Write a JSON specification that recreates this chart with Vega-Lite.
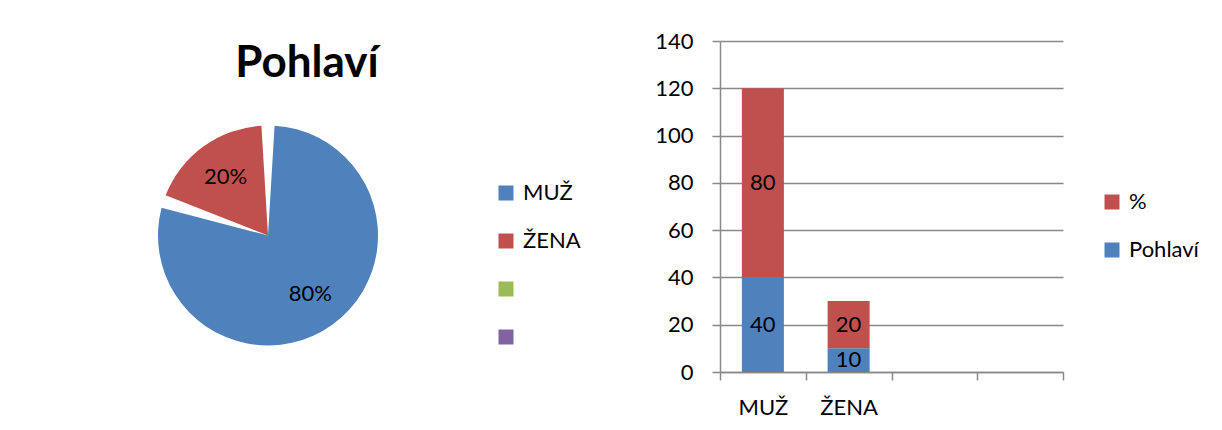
{
  "$schema": "https://vega.github.io/schema/vega-lite/v6.json",
  "background": "white",
  "padding": {"left": 148, "top": 30, "right": 0, "bottom": 0},
  "autosize": {"type": "pad"},
  "config": {
    "font": "Lato",
    "view": {"stroke": null},
    "axis": {"labelFont": "Lato", "labelColor": "black"},
    "legend": {"labelFont": "Lato"}
  },
  "spacing": 73,
  "hconcat": [
    {
      "width": 240,
      "height": 389,
      "title": {"text": "Pohlaví", "fontSize": 44, "fontWeight": "bold", "font": "Lato", "color": "black", "anchor": "middle", "baseline": "alphabetic", "offset": -80, "dx": 39},
      "data": {"values": [
        {"pohlavi": "MUŽ", "podil": 0.8},
        {"pohlavi": "ŽENA", "podil": 0.2}
      ]},
      "encoding": {
        "theta": {"field": "podil", "type": "quantitative", "stack": true},
        "order": {"field": "pohlavi", "type": "nominal", "sort": "ascending"}
      },
      "layer": [
        {
          "mark": {"type": "arc", "outerRadius": 110, "padAngle": 0.12},
          "encoding": {
            "color": {
              "field": "pohlavi", "type": "nominal",
              "scale": {"domain": ["MUŽ", "ŽENA", "3", "4"], "range": ["#4F81BD", "#C0504D", "#9BBB59", "#8064A2"]},
              "legend": {
                "title": null, "orient": "none", "legendX": 347, "legendY": 141,
                "symbolType": "square", "symbolSize": 225, "symbolStrokeWidth": 0,
                "labelFontSize": 22, "labelColor": "black", "labelOffset": 6,
                "rowPadding": 26, "padding": 0,
                "labelExpr": "datum.label == '3' || datum.label == '4' ? '' : datum.label"
              }
            }
          }
        },
        {
          "mark": {"type": "text", "radius": 72, "fontSize": 22, "color": "black"},
          "encoding": {
            "detail": {"field": "pohlavi", "type": "nominal"},
            "text": {"field": "podil", "type": "quantitative", "format": ".0%"}
          }
        }
      ]
    },
    {
      "width": 343,
      "height": 331,
      "data": {"values": [
        {"kategorie": "MUŽ", "rada": "Pohlaví", "hodnota": 40},
        {"kategorie": "MUŽ", "rada": "%", "hodnota": 80},
        {"kategorie": "ŽENA", "rada": "Pohlaví", "hodnota": 10},
        {"kategorie": "ŽENA", "rada": "%", "hodnota": 20}
      ]},
      "encoding": {
        "x": {
          "field": "kategorie", "type": "nominal", "sort": null,
          "scale": {"domain": ["MUŽ", "ŽENA", "3", "4"], "paddingInner": 0, "paddingOuter": 0},
          "axis": {
            "title": null, "labelAngle": 0, "labelFontSize": 22, "labelColor": "black", "labelPadding": 17,
            "tickBand": "extent", "tickSize": 8, "tickColor": "#898989", "tickWidth": 1.5,
            "domainColor": "#898989", "domainWidth": 1.5, "grid": false,
            "labelExpr": "datum.label == '3' || datum.label == '4' ? '' : datum.label"
          }
        },
        "order": {"field": "rada", "type": "nominal", "sort": "descending"}
      },
      "layer": [
        {
          "mark": {"type": "bar", "width": {"band": 0.49}},
          "encoding": {
            "y": {
              "field": "hodnota", "type": "quantitative", "stack": "zero",
              "scale": {"domain": [0, 140], "nice": false},
              "axis": {
                "title": null, "values": [0, 20, 40, 60, 80, 100, 120, 140],
                "labelFontSize": 22, "labelColor": "black", "labelPadding": 19,
                "tickSize": 8, "tickColor": "#898989", "tickWidth": 1.5,
                "domainColor": "#898989", "domainWidth": 1.5,
                "grid": true, "gridColor": "#898989", "gridWidth": 1.5
              }
            },
            "color": {
              "field": "rada", "type": "nominal",
              "scale": {"domain": ["%", "Pohlaví"], "range": ["#C0504D", "#4F81BD"]},
              "legend": {
                "title": null, "orient": "none", "legendX": 381, "legendY": 150,
                "symbolType": "square", "symbolSize": 225, "symbolStrokeWidth": 0,
                "labelFontSize": 22, "labelColor": "black", "labelOffset": 6,
                "rowPadding": 26, "padding": 0
              }
            }
          }
        },
        {
          "mark": {"type": "text", "fontSize": 22, "color": "black"},
          "encoding": {
            "detail": {"field": "rada", "type": "nominal"},
            "y": {
              "field": "hodnota", "type": "quantitative", "stack": "zero", "bandPosition": 0.5,
              "axis": {
                "title": null, "values": [0, 20, 40, 60, 80, 100, 120, 140],
                "labelFontSize": 22, "labelColor": "black", "labelPadding": 19,
                "tickSize": 8, "tickColor": "#898989", "tickWidth": 1.5,
                "domainColor": "#898989", "domainWidth": 1.5,
                "grid": true, "gridColor": "#898989", "gridWidth": 1.5
              }
            },
            "text": {"field": "hodnota", "type": "quantitative"}
          }
        }
      ]
    }
  ],
  "resolve": {"scale": {"color": "independent"}, "legend": {"color": "independent"}}
}
